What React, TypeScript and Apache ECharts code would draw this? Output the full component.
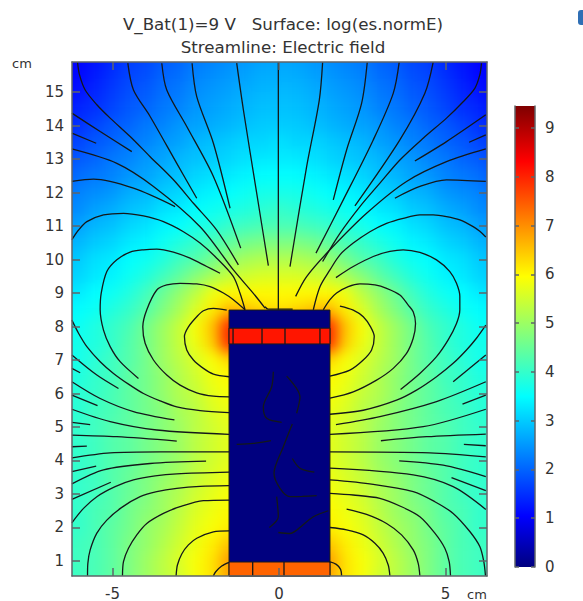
import React, { useEffect, useRef } from "react";
import * as echarts from "echarts";

const FONT = "'DejaVu Sans', sans-serif";
const titleText = "V_Bat(1)=9 V   Surface: log(es.normE)\nStreamline: Electric field";
const xTicks = [-5, 0, 5];
const yTicks = [1, 2, 3, 4, 5, 6, 7, 8, 9, 10, 11, 12, 13, 14, 15];
const barTicks = [0, 1, 2, 3, 4, 5, 6, 7, 8, 9];
const barMax = 9.45;
const jetOffsets = [0, 0.11, 0.37, 0.63, 0.88, 1];
const jetRgb = [[0, 0, 127], [0, 0, 255], [0, 255, 255], [255, 255, 0], [255, 0, 0], [127, 0, 0]];
const jetColors = jetRgb.map((c) => `rgb(${c.join(",")})`);

function jetAt(t: number) {
  let i = 0;
  while (i < jetOffsets.length - 2 && t > jetOffsets[i + 1]) i++;
  const f = (t - jetOffsets[i]) / (jetOffsets[i + 1] - jetOffsets[i]);
  const c = jetRgb[i].map((v, k) => Math.round(v + (jetRgb[i + 1][k] - v) * f));
  return `rgb(${c.join(",")})`;
}
const evenRamp = Array.from({ length: 101 }, (_, k) => jetAt(k / 100));

const cellX = ["-7","-6.5","-6","-5.5","-5","-4.5","-4","-3.5","-3","-2.5","-2","-1.5","-1","-0.5","0","0.5","1","1.5","2","2.5","3","3.5","4","4.5","5","5.5","6","6.5","7"];
const cellY = ["16.5","16","15.5","15","14.5","14","13.5","13","12.5","12","11.5","11","10.5","10","9.5","9","8.5","8","7.5","7","6.5","6","5.5","5","4.5","4","3.5","3","2.5","2","1.5","1","0.5","0"];
const surface = [
[1.05,1.05,1.05,1.05,1.2,1.4,1.5,1.7,1.8,2,2.1,2.2,2.3,2.4,2.4,2.4,2.3,2.2,2.1,2,1.8,1.7,1.5,1.4,1.2,1.05,1.05,1.05,1.05],
[1.05,1.05,1.05,1.2,1.4,1.6,1.7,1.9,2,2.2,2.3,2.4,2.5,2.6,2.6,2.6,2.5,2.4,2.3,2.2,2,1.9,1.7,1.6,1.4,1.2,1.05,1.05,1.05],
[1.05,1.05,1.1,1.3,1.5,1.7,1.8,2,2.1,2.3,2.4,2.5,2.6,2.7,2.7,2.7,2.6,2.5,2.4,2.3,2.1,2,1.8,1.7,1.5,1.3,1.1,1.05,1.05],
[1.05,1.1,1.2,1.4,1.6,1.8,1.9,2.1,2.2,2.4,2.5,2.6,2.7,2.8,2.8,2.8,2.7,2.6,2.5,2.4,2.2,2.1,1.9,1.8,1.6,1.4,1.2,1.1,1.05],
[1.1,1.2,1.4,1.5,1.7,1.9,2,2.2,2.3,2.5,2.6,2.7,2.8,2.9,2.9,2.9,2.8,2.7,2.6,2.5,2.3,2.2,2,1.9,1.7,1.5,1.4,1.2,1.1],
[1.2,1.4,1.5,1.7,1.9,2,2.2,2.3,2.5,2.6,2.7,2.8,2.9,3,3,3,2.9,2.8,2.7,2.6,2.5,2.3,2.2,2,1.9,1.7,1.5,1.4,1.2],
[1.4,1.6,1.7,1.9,2,2.2,2.3,2.5,2.6,2.8,2.9,3,3.1,3.1,3.2,3.1,3.1,3,2.9,2.8,2.6,2.5,2.3,2.2,2,1.9,1.7,1.6,1.4],
[1.6,1.7,1.9,2,2.2,2.3,2.5,2.6,2.8,2.9,3,3.1,3.2,3.3,3.3,3.3,3.2,3.1,3,2.9,2.8,2.6,2.5,2.3,2.2,2,1.9,1.7,1.6],
[1.8,1.9,2.1,2.2,2.3,2.5,2.6,2.8,2.9,3.1,3.2,3.3,3.4,3.5,3.5,3.5,3.4,3.3,3.2,3.1,2.9,2.8,2.6,2.5,2.3,2.2,2.1,1.9,1.8],
[2,2.1,2.3,2.4,2.5,2.7,2.8,3,3.1,3.3,3.4,3.5,3.6,3.7,3.7,3.7,3.6,3.5,3.4,3.3,3.1,3,2.8,2.7,2.5,2.4,2.3,2.1,2],
[2.2,2.3,2.4,2.6,2.7,2.9,3,3.2,3.3,3.5,3.6,3.7,3.8,3.9,4,3.9,3.8,3.7,3.6,3.5,3.3,3.2,3,2.9,2.7,2.6,2.4,2.3,2.2],
[2.4,2.5,2.6,2.8,2.9,3.1,3.2,3.4,3.5,3.7,3.8,4,4.1,4.2,4.2,4.2,4.1,4,3.8,3.7,3.5,3.4,3.2,3.1,2.9,2.8,2.6,2.5,2.4],
[2.6,2.7,2.8,3,3.1,3.3,3.4,3.6,3.8,4,4.2,4.4,4.6,4.7,4.7,4.7,4.6,4.4,4.2,4,3.8,3.6,3.4,3.3,3.1,3,2.8,2.7,2.6],
[2.8,2.9,3,3.2,3.3,3.5,3.6,3.8,4.1,4.3,4.6,4.9,5.1,5.2,5.2,5.2,5.1,4.9,4.6,4.3,4.1,3.8,3.6,3.5,3.3,3.2,3,2.9,2.8],
[2.9,3,3.1,3.3,3.4,3.6,3.8,4.1,4.4,4.8,5.1,5.4,5.5,5.6,5.6,5.6,5.5,5.4,5.1,4.8,4.4,4.1,3.8,3.6,3.4,3.3,3.1,3,2.9],
[3.1,3.2,3.3,3.5,3.6,3.8,4.1,4.5,4.9,5.3,5.8,6,6,6,6,6,6,6,5.8,5.3,4.9,4.5,4.1,3.8,3.6,3.5,3.3,3.2,3.1],
[3.3,3.4,3.5,3.6,3.8,4,4.3,4.7,5.1,5.6,6.1,6.6,6.5,6.3,6.2,6.3,6.5,6.6,6.1,5.6,5.1,4.7,4.3,4,3.8,3.6,3.5,3.4,3.3],
[3.4,3.5,3.6,3.8,4,4.2,4.6,5,5.4,5.9,6.5,8,7.5,7.5,7.5,7.5,7.5,8,6.5,5.9,5.4,5,4.6,4.2,4,3.8,3.6,3.5,3.4],
[3.5,3.6,3.7,3.8,4,4.3,4.6,5,5.4,5.8,6.4,8,7.5,7.5,7.5,7.5,7.5,8,6.4,5.8,5.4,5,4.6,4.3,4,3.8,3.7,3.6,3.5],
[3.5,3.6,3.7,3.9,4.1,4.3,4.6,5,5.3,5.6,5.9,6.3,6.3,6.3,6.3,6.3,6.3,6.3,5.9,5.6,5.3,5,4.6,4.3,4.1,3.9,3.7,3.6,3.5],
[3.6,3.7,3.8,4,4.1,4.4,4.6,4.9,5.2,5.5,5.8,6,6,6,6,6,6,6,5.8,5.5,5.2,4.9,4.6,4.4,4.1,4,3.8,3.7,3.6],
[3.7,3.8,3.9,4,4.2,4.4,4.6,4.9,5.2,5.4,5.7,5.9,5.8,5.8,5.8,5.8,5.8,5.9,5.7,5.4,5.2,4.9,4.6,4.4,4.2,4,3.9,3.8,3.7],
[3.8,3.8,3.9,4.1,4.2,4.4,4.6,4.8,5.1,5.3,5.6,5.8,5.8,5.8,5.8,5.8,5.8,5.8,5.6,5.3,5.1,4.8,4.6,4.4,4.2,4.1,3.9,3.8,3.8],
[3.8,3.9,4,4.1,4.3,4.4,4.6,4.8,5,5.3,5.5,5.7,5.7,5.7,5.7,5.7,5.7,5.7,5.5,5.3,5,4.8,4.6,4.4,4.3,4.1,4,3.9,3.8],
[3.8,3.9,4,4.1,4.3,4.4,4.6,4.8,5,5.3,5.5,5.7,5.7,5.7,5.7,5.7,5.7,5.7,5.5,5.3,5,4.8,4.6,4.4,4.3,4.1,4,3.9,3.8],
[3.8,3.9,4,4.1,4.3,4.4,4.6,4.8,5,5.3,5.5,5.7,5.7,5.7,5.7,5.7,5.7,5.7,5.5,5.3,5,4.8,4.6,4.4,4.3,4.1,4,3.9,3.8],
[3.8,3.9,4,4.1,4.3,4.5,4.7,4.9,5.1,5.4,5.6,5.8,5.8,5.8,5.8,5.8,5.8,5.8,5.6,5.4,5.1,4.9,4.7,4.5,4.3,4.1,4,3.9,3.8],
[3.8,3.9,4,4.1,4.3,4.5,4.7,5,5.2,5.5,5.7,5.9,5.9,5.9,5.9,5.9,5.9,5.9,5.7,5.5,5.2,5,4.7,4.5,4.3,4.1,4,3.9,3.8],
[3.9,3.9,4,4.2,4.3,4.6,4.8,5,5.3,5.6,5.8,6,6,6,6,6,6,6,5.8,5.6,5.3,5,4.8,4.6,4.3,4.2,4,3.9,3.9],
[3.9,4,4,4.2,4.4,4.6,4.9,5.1,5.4,5.7,5.9,6.1,6.1,6.1,6.1,6.1,6.1,6.1,5.9,5.7,5.4,5.1,4.9,4.6,4.4,4.2,4,4,3.9],
[4,4,4.1,4.2,4.4,4.7,4.9,5.2,5.5,5.8,6.1,6.5,6.5,6.5,6.5,6.5,6.5,6.5,6.1,5.8,5.5,5.2,4.9,4.7,4.4,4.2,4.1,4,4],
[4,4,4.1,4.2,4.4,4.7,5,5.3,5.6,5.9,6.2,6.9,6.9,6.9,6.9,6.9,6.9,6.9,6.2,5.9,5.6,5.3,5,4.7,4.4,4.2,4.1,4,4],
[4,4,4.1,4.2,4.4,4.7,5,5.3,5.5,5.9,6.2,6.8,6.9,6.9,6.9,6.9,6.9,6.8,6.2,5.9,5.5,5.3,5,4.7,4.4,4.2,4.1,4,4],
[4,4,4.1,4.2,4.4,4.7,5,5.3,5.5,5.9,6.2,6.8,6.9,6.9,6.9,6.9,6.9,6.8,6.2,5.9,5.5,5.3,5,4.7,4.4,4.2,4.1,4,4],
];

const batteryBody = [-1.5, 1.53, 0.55, 8.49];
const batteryTopBand = [-1.5, 1.53, 7.48, 7.95];
const batteryBottomBand = [-1.5, 1.53, 0.55, 0.97];

const streamlinesTop = [
[[-6.05,15.89],[-5.99,15.51],[-5.82,15.06],[-5.47,14.62],[-5.07,14.22],[-4.47,13.67],[-3.87,13.07],[-3.17,12.38],[-2.57,11.68],[-1.87,10.88],[-1.22,9.84]],
[[-4.54,15.86],[-4.37,15.06],[-3.87,14.27],[-3.07,12.87],[-2.47,11.83]],
[[-3.52,15.86],[-3.37,15.06],[-2.77,13.97],[-1.97,12.48],[-1.15,10.34]],
[[-2.61,15.86],[-2.47,14.86],[-1.97,13.47],[-1.47,11.53]],
[[-1.27,15.86],[-1.07,14.47],[-0.67,11.98],[-0.32,9.82]],
[[-0.02,15.88],[-0.02,8.5]],
[[-6.22,14.37],[-5.37,13.82],[-4.42,13.22]],
[[-6.22,13.77],[-5.49,13.47]],
[[-6.22,13.3],[-4.87,12.87],[-3.77,12.18],[-2.37,10.98],[-1.37,9.69],[-0.77,8.99],[-0.42,8.55]],
[[-6.22,12.33],[-5.57,12.4],[-4.37,12.13],[-3.12,11.58]],
[[-6.22,10.59],[-6.02,10.88],[-5.77,11.13],[-5.27,11.33],[-4.67,11.38],[-4.07,11.3],[-3.47,11.13],[-2.87,10.83],[-2.37,10.49],[-1.87,10.04],[-1.37,9.49],[-1.17,8.99],[-1.02,8.5]],
[[-1.77,9.59],[-2.17,9.79],[-2.67,10.04],[-3.17,10.22],[-3.67,10.31],[-4.07,10.29],[-4.47,10.22],[-4.87,9.99],[-5.17,9.64],[-5.34,8.99],[-5.37,8.5],[-5.27,7.89],[-5.07,7.4],[-4.77,6.95],[-4.22,6.45]],
[[-1.02,8.5],[-1.37,8.8],[-1.67,9],[-2.07,9.19],[-2.47,9.27],[-2.97,9.29],[-3.37,9.24],[-3.67,9.09],[-3.97,8.5],[-4.09,7.99],[-4.02,7.5],[-3.77,7],[-3.37,6.55],[-2.97,6.25],[-2.47,6.02],[-1.97,5.92],[-1.5,5.9]],
[[-1.57,8.49],[-1.97,8.54],[-2.27,8.47],[-2.47,8.29],[-2.72,7.99],[-2.84,7.7],[-2.77,7.3],[-2.57,7],[-2.27,6.75],[-1.97,6.58],[-1.5,6.5]],
[[1.31,15.89],[1.21,14.76],[0.83,12.77],[0.33,9.79]],
[[2.65,15.89],[2.48,14.66],[2.03,13.27],[1.63,11.78]],
[[3.61,15.89],[3.43,14.96],[2.83,13.57],[1.93,11.78],[1.11,10.19]],
[[4.63,15.89],[4.38,14.96],[3.63,13.57],[2.28,11.6]],
[[6.08,15.86],[6.03,15.51],[5.88,15.11],[5.53,14.71],[5.03,14.22],[4.33,13.62],[3.63,12.97],[3.03,12.28],[2.43,11.58],[1.83,10.78],[1.31,9.94]],
[[6.21,14.32],[5.03,13.52],[4.08,12.94]],
[[6.21,13.72],[5.71,13.5]],
[[6.21,13.3],[5.03,12.92],[3.83,12.33],[2.63,11.38],[1.53,10.29],[0.83,9.49],[0.5,8.9]],
[[6.21,12.33],[5.03,12.38],[4.23,12.18],[3.48,11.83]],
[[6.21,10.67],[6.03,10.84],[5.83,10.98],[5.43,11.18],[5.03,11.28],[4.63,11.33],[4.23,11.33],[3.73,11.23],[3.23,11.08],[2.73,10.83],[2.23,10.49],[1.83,10.14],[1.53,9.69],[1.23,9.19],[1.03,8.5]],
[[1.71,9.46],[2.23,9.79],[2.83,10.09],[3.33,10.24],[3.73,10.29],[4.23,10.21],[4.73,9.99],[5.13,9.64],[5.33,9.29],[5.43,8.9],[5.43,8.5],[5.33,8.09],[5.08,7.6],[4.73,7.1],[4.23,6.6],[3.65,6.12]],
[[1.33,8.5],[1.53,8.8],[1.73,9],[2.08,9.19],[2.43,9.27],[2.88,9.24],[3.23,9.14],[3.63,8.94],[3.88,8.64],[4.03,8.44],[4.1,8.09],[4.03,7.65],[3.83,7.2],[3.43,6.75],[2.93,6.4],[2.23,6.05],[1.53,5.86]],
[[1.83,8.61],[2.23,8.49],[2.53,8.29],[2.75,7.99],[2.86,7.7],[2.78,7.3],[2.53,7],[2.13,6.7],[1.53,6.52]],
[[-0.42,8.59],[-0.33,8.52],[0.41,8.52]],
];
const streamlinesSide = [
[[-6.22,8.19],[-6.02,7.8],[-5.77,7.4],[-5.37,6.95],[-4.97,6.6],[-4.52,6.28],[-4.07,6],[-3.57,5.78],[-3.07,5.6],[-2.37,5.49],[-1.5,5.43]],
[[-6.22,7.15],[-5.47,6.55],[-4.82,6.15]],
[[-6.22,6.75],[-5.97,6.62]],
[[-6.22,6.35],[-5.37,5.85],[-4.37,5.46],[-3.14,5.21]],
[[-6.22,5.95],[-5.45,5.64]],
[[-6.22,5.53],[-5.07,5.16],[-3.67,4.91],[-1.5,4.78]],
[[-6.22,5.14],[-5.67,5.07]],
[[-6.22,4.76],[-4.87,4.71],[-3.07,4.58]],
[[-6.22,4.41],[-5.77,4.43]],
[[-6.22,4.08],[-5.07,4.23],[-3.57,4.26],[-1.5,4.26]],
[[-6.22,3.67],[-5.49,3.83]],
[[-6.22,3.3],[-5.27,3.72],[-3.87,3.91],[-2.19,3.98]],
[[-6.22,2.84],[-5.05,3.35]],
[[-6.22,2.14],[-5.87,2.57],[-5.47,2.92],[-4.92,3.22],[-4.37,3.42],[-3.72,3.54],[-3.07,3.6],[-1.5,3.65]],
[[-5.75,0.56],[-5.74,0.93],[-5.67,1.33],[-5.47,1.83],[-5.17,2.22],[-4.72,2.6],[-4.17,2.92],[-3.67,3.07],[-3.07,3.17],[-2.37,3.23],[-1.5,3.25]],
[[-4.7,0.56],[-4.67,0.98],[-4.52,1.38],[-4.27,1.78],[-3.97,2.12],[-3.47,2.42],[-2.97,2.62],[-2.27,2.8],[-1.5,2.82]],
[[-3.09,0.56],[-3.05,0.88],[-2.92,1.21],[-2.72,1.48],[-2.47,1.68],[-1.97,1.87],[-1.5,1.9]],
[[-1.97,0.56],[-1.9,0.68],[-1.72,0.85],[-1.5,0.96]],
[[6.21,8.04],[5.93,7.65],[5.63,7.3],[5.23,6.9],[4.73,6.5],[4.13,6.1],[3.53,5.8],[2.53,5.5],[1.53,5.38]],
[[6.21,7.15],[5.23,6.35]],
[[6.21,6.35],[4.73,5.76],[3.03,5.31],[1.71,5.07]],
[[6.21,5.95],[5.51,5.68]],
[[6.21,5.53],[4.33,5.01],[1.53,4.78]],
[[6.21,4.79],[4.43,4.71],[3.06,4.59]],
[[6.21,4.44],[5.55,4.48]],
[[6.21,4.11],[4.53,4.23],[1.53,4.26]],
[[6.21,3.52],[4.93,3.86],[3.61,3.99]],
[[6.21,3.1],[5.18,3.49]],
[[6.21,2.54],[5.23,3.22],[4.03,3.57],[1.53,3.77]],
[[6.2,0.56],[6.15,0.98],[6.03,1.43],[5.73,1.88],[5.23,2.42],[4.68,2.77],[4.03,3.07],[2.83,3.29],[1.53,3.42]],
[[5.15,0.56],[5.11,0.98],[4.98,1.38],[4.68,1.83],[4.23,2.32],[3.68,2.62],[3.03,2.87],[2.23,2.97],[1.53,3.02]],
[[4.23,0.56],[4.18,0.93],[4.03,1.33],[3.68,1.78],[3.23,2.12],[2.63,2.39],[2.03,2.55]],
[[3.33,0.56],[3.28,0.88],[3.13,1.23],[2.88,1.53],[2.53,1.78],[2.03,1.93],[1.53,2]],
[[1.88,0.56],[1.85,0.75],[1.72,0.9],[1.51,0.98]],
];
const streamlinesInside = [
[[-0.17,6.65],[-0.22,6.2],[-0.47,5.6],[-0.37,5.26],[0.08,5.14]],
[[-1.27,4.48],[-0.77,4.51],[-0.24,4.59]],
[[0.4,5.09],[0.13,4.41],[-0.15,3.62],[0.03,3.17],[0.33,2.92],[0.7,2.93],[1.13,2.95]],
[[-0.07,2.92],[-0.02,2.32],[-0.29,2]],
[[-0.02,1.85],[0.33,1.82],[0.53,1.92],[1.03,2.32],[1.48,2.5]],
[[0.23,6.52],[0.63,5.9],[0.53,5.41]],
[[0.4,4.06],[0.63,3.77],[1.06,3.65]],
[[-1.38,7.48],[-1.38,7.95]],
[[-0.51,7.48],[-0.51,7.95]],
[[0.18,7.48],[0.18,7.95]],
[[1.23,7.48],[1.23,7.95]],
[[-0.79,0.55],[-0.79,0.97]],
[[0.15,0.55],[0.15,0.97]],
];

const AXIS = "#5f6468";
const TEXT = "#333333";

function frameAxis(extra: any, ticks: number[], length: number) {
  return {
    type: "value",
    z: 5,
    axisLine: { show: true, onZero: false, lineStyle: { color: AXIS, width: 1.5 } },
    axisTick: { show: true, inside: true, length, customValues: ticks, lineStyle: { color: AXIS, width: 1.5 } },
    splitLine: { show: false },
    axisLabel: { show: false },
    ...extra,
  };
}
const shownLabel = (ticks: number[], margin: number) => ({
  show: true, customValues: ticks, margin, color: TEXT, fontSize: 15, fontFamily: FONT,
});

const xRange = { min: -6.216, max: 6.246 };
const yRange = { min: 0.552, max: 15.896 };

function lineSeries(d: number[][], i: number) {
  return {
    type: "line", name: "streamline " + i, data: d, showSymbol: false, symbol: "none",
    smooth: 0.3, silent: true, z: 4, xAxisIndex: 0, yAxisIndex: 0,
    lineStyle: { color: "#14181a", width: 1.3 },
  };
}

export default function App() {
  const surfaceRef = useRef<HTMLDivElement>(null);
  const topRef = useRef<HTMLDivElement>(null);
  useEffect(() => {
    const under = echarts.init(surfaceRef.current!, null, { renderer: "svg" });
    const cells: number[][] = [];
    surface.forEach((row, r) => row.forEach((v, c) => cells.push([c, r, v])));
    under.setOption({
      animation: false,
      grid: { left: 37.6, top: 33.4, width: 482.85, height: 569.5 },
      xAxis: { type: "category", data: cellX, show: false },
      yAxis: { type: "category", data: cellY, inverse: true, show: false },
      visualMap: { show: false, min: 0, max: barMax, dimension: 2, inRange: { color: evenRamp } },
      series: [{ type: "heatmap", name: "log(es.normE)", data: cells, silent: true }],
    });

    const top = echarts.init(topRef.current!, null, { renderer: "svg" });
    const rectSeries = (band: number[], fill: string, z: number) => ({
      type: "custom", silent: true, z, xAxisIndex: 0, yAxisIndex: 0, data: [band],
      renderItem: (_: any, api: any) => {
        const a = api.coord([api.value(0), api.value(3)]);
        const b = api.coord([api.value(1), api.value(2)]);
        return { type: "rect", shape: { x: a[0], y: a[1], width: b[0] - a[0], height: b[1] - a[1] },
          style: { fill, stroke: "#1a1a1a", lineWidth: 1 } };
      },
    });
    top.setOption({
      animation: false,
      backgroundColor: "transparent",
      title: {
        text: titleText, left: 278, top: 7, textAlign: "center",
        textStyle: { fontFamily: FONT, fontWeight: "normal", fontSize: 16.7, lineHeight: 23, color: TEXT },
      },
      grid: [
        { left: 72, top: 62, width: 415, height: 514 },
        { left: 515, top: 106, width: 20, height: 461 },
      ],
      xAxis: [
        frameAxis({ ...xRange, gridIndex: 0, position: "bottom", axisLabel: shownLabel(xTicks, 10) }, xTicks, 8),
        frameAxis({ ...xRange, gridIndex: 0, position: "top" }, xTicks, 8),
        { type: "category", gridIndex: 1, data: ["scale"], show: false },
      ],
      yAxis: [
        frameAxis({ ...yRange, gridIndex: 0, position: "left", axisLabel: shownLabel(yTicks, 8) }, yTicks, 8),
        frameAxis({ ...yRange, gridIndex: 0, position: "right" }, yTicks, 8),
        frameAxis({ min: 0, max: barMax, gridIndex: 1, position: "right", axisLabel: shownLabel(barTicks, 10) }, barTicks, 4),
        frameAxis({ min: 0, max: barMax, gridIndex: 1, position: "left" }, barTicks, 4),
      ],
      series: [
        rectSeries(batteryBody, "#00007f", 2),
        rectSeries(batteryTopBand, "#ff1500", 3),
        rectSeries(batteryBottomBand, "#ff6400", 3),
        ...[...streamlinesTop, ...streamlinesSide, ...streamlinesInside].map(lineSeries),
        {
          type: "bar", name: "colour scale", xAxisIndex: 2, yAxisIndex: 2, data: [barMax], barWidth: "100%", silent: true,
          itemStyle: {
            color: new echarts.graphic.LinearGradient(0, 1, 0, 0,
              jetOffsets.map((offset, i) => ({ offset, color: jetColors[i] }))),
          },
        },
      ],
      graphic: [
        { type: "text", x: 12, y: 57, style: { text: "cm", fontFamily: FONT, fontSize: 13, fill: TEXT } },
        { type: "text", x: 467, y: 588, style: { text: "cm", fontFamily: FONT, fontSize: 13, fill: TEXT } },
        { type: "rect", x: 578, y: 10, shape: { width: 8, height: 15, r: 3 }, style: { fill: "#2f6fb5" } },
      ],
    });
    return () => { under.dispose(); top.dispose(); };
  }, []);

  return (
    <div style={{ position: "fixed", left: 0, top: 0, width: 583, height: 601, background: "#fff", overflow: "hidden" }}>
      <div style={{ position: "absolute", left: 72, top: 62, width: 415, height: 514, overflow: "hidden" }}>
        <div ref={surfaceRef} style={{ position: "absolute", left: -72, top: -62, width: 583, height: 620, filter: "blur(7px)" }} />
      </div>
      <div ref={topRef} style={{ position: "absolute", left: 0, top: 0, width: 583, height: 601 }} />
    </div>
  );
}
